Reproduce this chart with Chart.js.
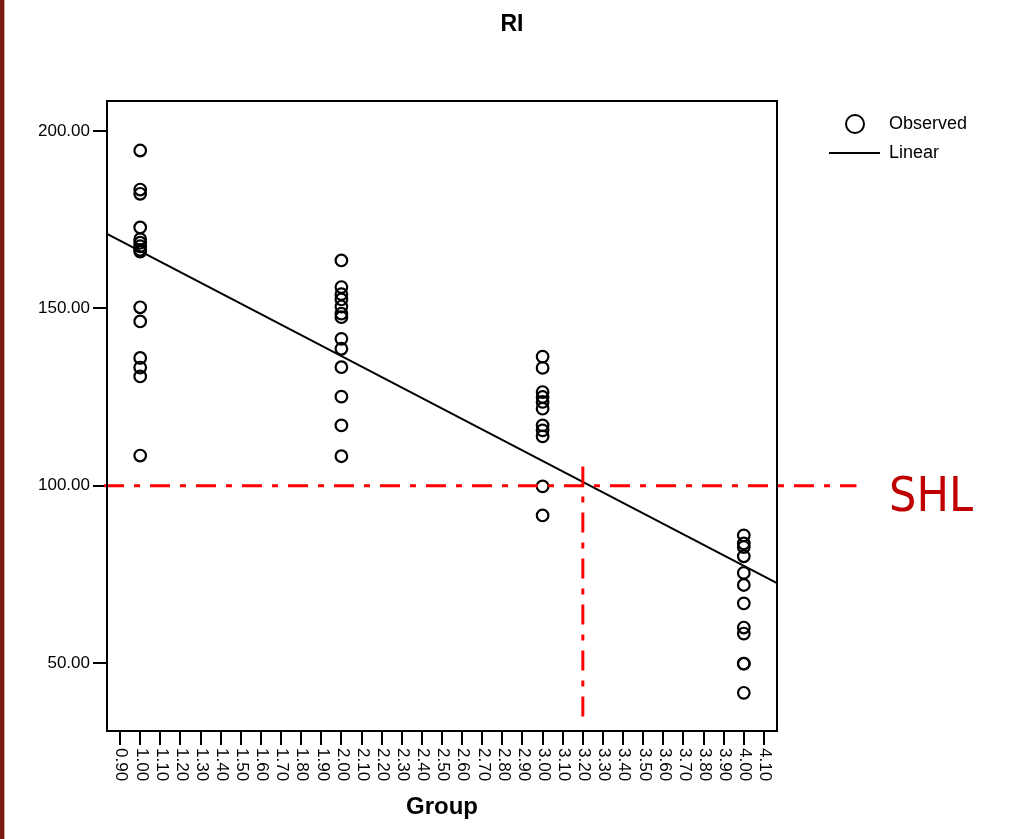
<!DOCTYPE html>
<html>
<head>
<meta charset="utf-8">
<title>RI by Group</title>
<script src="https://cdn.jsdelivr.net/npm/chart.js@4.4.1/dist/chart.umd.min.js"></script>
<style>
  html, body { margin: 0; padding: 0; background: #ffffff; }
  #wrap { width: 1019px; height: 839px; position: relative; }
  canvas { display: block; }
</style>
</head>
<body>
<div id="wrap"><canvas id="chart" width="1019" height="839"></canvas></div>
<script>
// RI values observed in each group
const groups = [1, 2, 3, 4];
const riGroup1 = [194.5, 183.5, 182.3, 172.8, 169.5, 168.5, 167.5, 166.5, 166.0, 150.3, 146.3, 136.0, 133.3, 130.8, 108.5];
const riGroup2 = [163.5, 156.0, 154.0, 152.5, 150.5, 148.5, 147.5, 141.4, 138.6, 133.4, 125.1, 117.0, 108.3];
const riGroup3 = [136.4, 133.2, 126.4, 125.0, 123.6, 121.7, 117.0, 115.6, 113.9, 99.8, 91.6];
const riGroup4 = [86.0, 83.7, 82.7, 80.1, 75.4, 72.0, 66.8, 60.0, 58.3, 49.8, 49.8, 41.6];

// Linear fit, given at the two ends of the group axis
const linearX = [0.835, 4.165];
const linearY = [171.0, 72.5];

// SHL threshold: RI = 100, crossing the fit near group 3.2
const shlValue = 100;
const shlGroup = 3.2;
const shlLineX = [0.82, 4.56];
const shlDropY = [105.4, 33.5];

// Axis ticks and labels
const xTickValues = [0.9, 1.0, 1.1, 1.2, 1.3, 1.4, 1.5, 1.6, 1.7, 1.8, 1.9, 2.0, 2.1, 2.2, 2.3, 2.4, 2.5, 2.6, 2.7, 2.8, 2.9, 3.0, 3.1, 3.2, 3.3, 3.4, 3.5, 3.6, 3.7, 3.8, 3.9, 4.0, 4.1];
const xTickLabels = ["0.90", "1.00", "1.10", "1.20", "1.30", "1.40", "1.50", "1.60", "1.70", "1.80", "1.90", "2.00", "2.10", "2.20", "2.30", "2.40", "2.50", "2.60", "2.70", "2.80", "2.90", "3.00", "3.10", "3.20", "3.30", "3.40", "3.50", "3.60", "3.70", "3.80", "3.90", "4.00", "4.10"];
const yTickValues = [50, 100, 150, 200];
const yTickLabels = ["50.00", "100.00", "150.00", "200.00"];

const xRange = [0.835, 4.165];
const yRange = [30.83, 208.46];

const FONT = '"Liberation Sans", Arial, Helvetica, sans-serif';

const groupSeries = [riGroup1, riGroup2, riGroup3, riGroup4];
const observedPoints = [];
groupSeries.forEach((vals, i) => vals.forEach(v => observedPoints.push({ x: groups[i], y: v })));

const linearPoints = linearX.map((x, i) => ({ x: x, y: linearY[i] }));
const shlHorizontal = shlLineX.map(x => ({ x: x, y: shlValue }));
const shlVertical = shlDropY.map(y => ({ x: shlGroup, y: y }));

// Page background and the dark red strip on the left edge
const backdrop = {
  id: 'backdrop',
  beforeDraw(chart) {
    const ctx = chart.ctx;
    ctx.save();
    ctx.fillStyle = '#ffffff';
    ctx.fillRect(0, 0, chart.width, chart.height);
    ctx.fillStyle = '#7a1a10';
    ctx.fillRect(0, 0, 4, chart.height);
    ctx.fillStyle = '#d9a8a4';
    ctx.fillRect(4, 0, 1, chart.height);
    ctx.restore();
  }
};

// Plot frame, vertical x labels, titles, legend and the SHL note
const decorations = {
  id: 'decorations',
  afterDraw(chart) {
    const ctx = chart.ctx;
    const a = chart.chartArea;
    const xs = chart.scales.x;
    ctx.save();

    // frame
    ctx.strokeStyle = '#000000';
    ctx.lineWidth = 2;
    ctx.strokeRect(a.left, a.top, a.right - a.left, a.bottom - a.top);

    // x tick labels, reading downwards
    ctx.fillStyle = '#000000';
    ctx.font = '17px ' + FONT;
    ctx.textAlign = 'left';
    ctx.textBaseline = 'middle';
    xTickValues.forEach((v, i) => {
      const px = xs.getPixelForValue(v);
      ctx.save();
      ctx.translate(px + 1, a.bottom + 17);
      ctx.rotate(Math.PI / 2);
      ctx.fillText(xTickLabels[i], 0, 0);
      ctx.restore();
    });

    // chart title
    ctx.textAlign = 'center';
    ctx.font = 'bold 23px ' + FONT;
    ctx.fillText('RI', 512, 25);

    // x axis title
    ctx.font = 'bold 24px ' + FONT;
    ctx.fillText('Group', (a.left + a.right) / 2, 807);

    // legend
    ctx.lineWidth = 2;
    ctx.beginPath();
    ctx.arc(855, 124, 9, 0, Math.PI * 2);
    ctx.stroke();
    ctx.beginPath();
    ctx.moveTo(829, 153);
    ctx.lineTo(880, 153);
    ctx.stroke();
    ctx.textAlign = 'left';
    ctx.font = '18px ' + FONT;
    ctx.fillText('Observed', 889, 124);
    ctx.fillText('Linear', 889, 153);

    // SHL note
    ctx.fillStyle = '#c00000';
    ctx.font = '48px "DejaVu Sans Condensed", "DejaVu Sans", sans-serif';
    ctx.textBaseline = 'alphabetic';
    ctx.fillText('SHL', 889, 511);

    ctx.restore();
  }
};

new Chart(document.getElementById('chart'), {
  type: 'scatter',
  data: {
    datasets: [
      {
        label: 'Observed',
        data: observedPoints,
        pointStyle: 'circle',
        pointRadius: 5.8,
        pointBorderWidth: 2.2,
        pointBorderColor: '#000000',
        pointBackgroundColor: 'rgba(0,0,0,0)',
        showLine: false,
        order: 3
      },
      {
        label: 'Linear',
        data: linearPoints,
        showLine: true,
        borderColor: '#000000',
        borderWidth: 2,
        pointRadius: 0,
        fill: false,
        order: 2
      },
      {
        label: 'SHL',
        data: shlHorizontal,
        showLine: true,
        borderColor: '#ff0000',
        borderWidth: 3,
        borderDash: [20, 10, 6, 10],
        pointRadius: 0,
        fill: false,
        clip: false,
        order: 1
      },
      {
        label: 'SHL group',
        data: shlVertical,
        showLine: true,
        borderColor: '#ff0000',
        borderWidth: 3,
        borderDash: [20, 10, 6, 10],
        pointRadius: 0,
        fill: false,
        clip: false,
        order: 1
      }
    ]
  },
  options: {
    responsive: false,
    devicePixelRatio: 1,
    animation: false,
    events: [],
    layout: { padding: { left: 0, top: 101, right: 242, bottom: 0 } },
    plugins: {
      legend: { display: false },
      title: { display: false },
      tooltip: { enabled: false }
    },
    scales: {
      x: {
        type: 'linear',
        min: xRange[0],
        max: xRange[1],
        afterBuildTicks(scale) {
          scale.ticks = xTickValues.map(v => ({ value: v }));
        },
        afterFit(scale) { scale.height = 108; },
        ticks: { display: false },
        grid: {
          drawOnChartArea: false,
          drawTicks: true,
          tickLength: 14,
          tickWidth: 2,
          tickColor: '#000000',
          lineWidth: 2,
          color: '#000000'
        },
        border: { display: false }
      },
      y: {
        type: 'linear',
        min: yRange[0],
        max: yRange[1],
        afterBuildTicks(scale) {
          scale.ticks = yTickValues.map(v => ({ value: v }));
        },
        afterFit(scale) { scale.width = 107; },
        ticks: {
          padding: 3,
          color: '#000000',
          font: { family: FONT, size: 17 },
          callback(value) {
            const i = yTickValues.indexOf(value);
            return i >= 0 ? yTickLabels[i] : '';
          }
        },
        grid: {
          drawOnChartArea: false,
          drawTicks: true,
          tickLength: 14,
          tickWidth: 2,
          tickColor: '#000000',
          lineWidth: 2,
          color: '#000000'
        },
        border: { display: false }
      }
    }
  },
  plugins: [backdrop, decorations]
});
</script>
</body>
</html>
